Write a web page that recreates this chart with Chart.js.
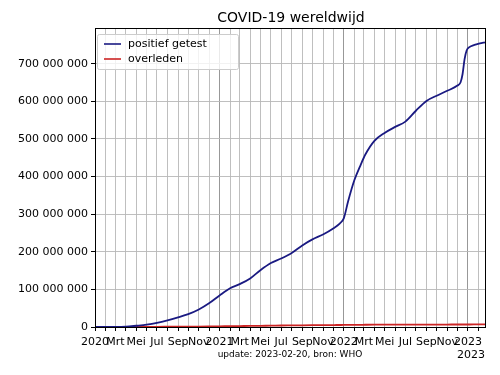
<!DOCTYPE html>
<html>
<head>
<meta charset="utf-8">
<script src="https://cdn.jsdelivr.net/npm/chart.js@4"></script>
<style>
  html, body { margin: 0; padding: 0; background: #fff; }
  canvas { display: block; }
</style>
</head>
<body>
<canvas id="c" width="500" height="375"></canvas>
<script>
// ---- data (values in millions) ----
const dates = [
  '2020-01-03','2020-02-01','2020-03-01','2020-04-01','2020-05-01','2020-06-01',
  '2020-07-01','2020-08-01','2020-09-01','2020-10-01','2020-11-01','2020-12-01',
  '2021-01-01','2021-02-01','2021-03-01','2021-04-01','2021-05-01','2021-06-01',
  '2021-07-01','2021-08-01','2021-09-01','2021-10-01','2021-11-01','2021-12-01',
  '2021-12-20','2022-01-01','2022-01-14','2022-02-01','2022-02-20','2022-03-05',
  '2022-04-01','2022-05-01','2022-06-01','2022-07-01','2022-08-01','2022-09-01',
  '2022-10-01','2022-11-01','2022-12-01','2022-12-10','2022-12-16','2022-12-22',
  '2022-12-28','2023-01-05','2023-01-20','2023-02-05','2023-02-20'
];
const casesM = [
  0, 0.01, 0.09, 0.9, 3.3, 6.2,
  10.8, 17.5, 25.5, 34, 46.5, 63,
  84, 103, 114, 129, 151, 170,
  182, 197, 217, 233, 246, 262,
  275, 289, 335, 390, 432, 458,
  495, 516, 532, 546, 575, 601,
  615, 628, 642, 650, 672, 712,
  735, 744, 750, 754, 757
];
const deathsM = [
  0, 0.0003, 0.003, 0.045, 0.23, 0.37,
  0.51, 0.67, 0.85, 1.01, 1.18, 1.45,
  1.8, 2.24, 2.53, 2.78, 3.2, 3.54,
  3.96, 4.2, 4.5, 4.76, 4.97, 5.2,
  5.33, 5.44, 5.52, 5.65, 5.82, 5.95,
  6.17, 6.26, 6.3, 6.35, 6.42, 6.48,
  6.53, 6.57, 6.63, 6.64, 6.66, 6.68,
  6.69, 6.71, 6.76, 6.82, 6.86
];
const seriesLabels = ['positief getest', 'overleden'];
const monthNames = ['', '', 'Mrt', '', 'Mei', '', 'Jul', '', 'Sep', '', 'Nov', ''];
const yTicks = [0, 100e6, 200e6, 300e6, 400e6, 500e6, 600e6, 700e6];
const titleText = 'COVID-19 wereldwijd';
const xLabelText = 'update: 2023-02-20, bron: WHO';
const offsetText = '2023';

// ---- helpers ----
const DAY = 86400000;
const origin = Date.UTC(2020, 0, 1);
function dayOf(s) {
  const p = s.split('-').map(Number);
  return (Date.UTC(p[0], p[1] - 1, p[2]) - origin) / DAY;
}
const xs = dates.map(dayOf);
const casesPts = xs.map((x, i) => ({ x: x, y: casesM[i] * 1e6 }));
const deathPts = xs.map((x, i) => ({ x: x, y: deathsM[i] * 1e6 }));

// monthly ticks from 2020-01 to 2023-02
const monthTicks = [];
for (let y = 2020; y <= 2023; y++) {
  for (let m = 0; m < 12; m++) {
    if (y === 2023 && m > 1) break;
    const d = (Date.UTC(y, m, 1) - origin) / DAY;
    monthTicks.push({ value: d, year: y, month: m });
  }
}
const xMax = dayOf('2023-02-20');

function fmtSpace(v) {
  return String(Math.round(v)).replace(/\B(?=(\d{3})+(?!\d))/g, ' ');
}

const FONT = "'DejaVu Sans', sans-serif";
const colors = ['#1a1a82', '#cc2424'];

const decor = {
  id: 'decor',
  afterDraw(chart) {
    const ctx = chart.ctx;
    const a = chart.chartArea;
    ctx.save();
    // frame
    ctx.strokeStyle = '#000';
    ctx.lineWidth = 1;
    ctx.strokeRect(Math.round(a.left) + 0.5, Math.round(a.top) + 0.5,
                   Math.round(a.right - a.left), Math.round(a.bottom - a.top));
    // title
    ctx.fillStyle = '#000';
    ctx.textAlign = 'center';
    ctx.textBaseline = 'middle';
    ctx.font = '14px ' + FONT;
    ctx.fillText(titleText, (a.left + a.right) / 2 + 1, 18);
    // x label
    ctx.font = '9px ' + FONT;
    ctx.fillText(xLabelText, (a.left + a.right) / 2, 355);
    // offset text
    ctx.font = '11px ' + FONT;
    ctx.textAlign = 'right';
    ctx.fillText(offsetText, a.right, 355);
    // legend
    const lx = a.left + 2, ly = a.top + 6, lw = 141, lh = 35;
    ctx.fillStyle = 'rgba(255,255,255,0.8)';
    ctx.strokeStyle = '#cccccc';
    ctx.lineWidth = 1;
    ctx.beginPath();
    if (ctx.roundRect) ctx.roundRect(lx + 0.5, ly + 0.5, lw, lh, 2); else ctx.rect(lx + 0.5, ly + 0.5, lw, lh);
    ctx.fill();
    ctx.stroke();
    ctx.textAlign = 'left';
    ctx.textBaseline = 'middle';
    ctx.font = '11px ' + FONT;
    chart.data.datasets.forEach((ds, i) => {
      const yy = ly + 10 + i * 15;
      ctx.strokeStyle = ds.borderColor;
      ctx.lineWidth = 1.6;
      ctx.beginPath();
      ctx.moveTo(lx + 7, yy);
      ctx.lineTo(lx + 24, yy);
      ctx.stroke();
      ctx.fillStyle = '#000';
      ctx.fillText(ds.label, lx + 31, yy);
    });
    ctx.restore();
  }
};

new Chart(document.getElementById('c'), {
  type: 'line',
  data: {
    datasets: [
      { label: seriesLabels[0], data: casesPts, borderColor: colors[0], borderWidth: 1.8,
        pointRadius: 0, cubicInterpolationMode: 'monotone', fill: false },
      { label: seriesLabels[1], data: deathPts, borderColor: colors[1], borderWidth: 1.8,
        pointRadius: 0, cubicInterpolationMode: 'monotone', fill: false }
    ]
  },
  options: {
    responsive: false,
    animation: false,
    events: [],
    layout: { padding: { left: 0, right: 15, top: 28, bottom: 0 } },
    plugins: { legend: { display: false }, title: { display: false }, tooltip: { enabled: false } },
    scales: {
      x: {
        type: 'linear',
        min: 0,
        max: xMax,
        afterFit(s) { s.height = 48; },
        afterBuildTicks(s) { s.ticks = monthTicks.map(t => ({ value: t.value })); },
        ticks: {
          autoSkip: false, maxRotation: 0, minRotation: 0, padding: 5,
          color: '#000', font: { family: FONT, size: 11 },
          callback(value, index) {
            const t = monthTicks[index];
            if (!t) return '';
            return t.month === 0 ? String(t.year) : monthNames[t.month];
          }
        },
        grid: {
          color(ctx) {
            const t = monthTicks[ctx.index];
            return t && t.month === 0 ? '#8c8c8c' : '#b8b8b8';
          },
          lineWidth: 0.9,
          tickLength: 4,
          tickColor: '#000',
          tickWidth: 1
        },
        border: { display: true, color: '#000', width: 1 }
      },
      y: {
        min: 0,
        max: 795e6,
        afterFit(s) { s.width = 95; },
        afterBuildTicks(s) { s.ticks = yTicks.map(v => ({ value: v })); },
        ticks: {
          padding: 3, color: '#000', font: { family: FONT, size: 11 },
          callback(value) { return fmtSpace(value); }
        },
        grid: { color: '#b8b8b8', lineWidth: 0.9, tickLength: 4, tickColor: '#000', tickWidth: 1 },
        border: { display: true, color: '#000', width: 1 }
      }
    }
  },
  plugins: [decor]
});
</script>
</body>
</html>
